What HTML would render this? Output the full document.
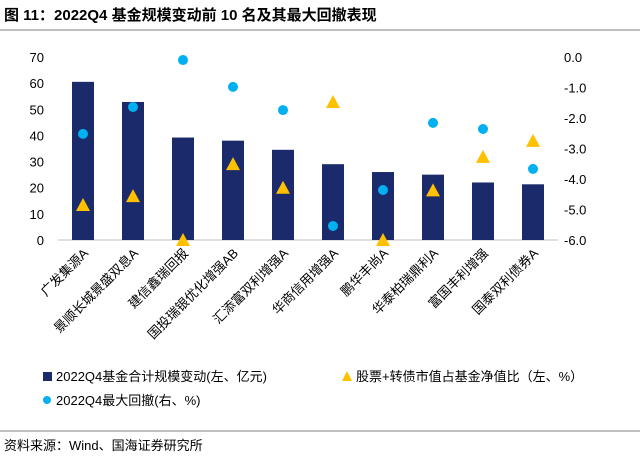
<!DOCTYPE html>
<html><head><meta charset="utf-8"><style>
body{margin:0;background:#fff;width:640px;height:458px;overflow:hidden;font-family:"Liberation Sans","Noto Sans CJK SC",sans-serif}
</style></head><body>
<svg id="c" width="640" height="458" xmlns="http://www.w3.org/2000/svg">
<text x="4" y="20" font-size="15" font-weight="bold" fill="#000" font-family="Liberation Sans, Noto Sans CJK SC, sans-serif">图 11：2022Q4 基金规模变动前 10 名及其最大回撤表现</text>
<line x1="0" y1="30" x2="640" y2="30" stroke="#7f7f7f" stroke-width="1"/>
<line x1="0" y1="431" x2="640" y2="431" stroke="#7f7f7f" stroke-width="1"/>
<text x="4" y="450" font-size="13" fill="#000" font-family="Liberation Sans, Noto Sans CJK SC, sans-serif">资料来源：Wind、国海证券研究所</text>
<g id="plot"></g>
</svg>
<script>
const categories=["广发集源A","景顺长城景盛双息A","建信鑫瑞回报","国投瑞银优化增强AB","汇添富双利增强A","华商信用增强A","鹏华丰尚A","华泰柏瑞鼎利A","富国丰利增强","国泰双利债券A"];
const scaleChange=[60.5,52.8,39.2,38,34.5,29,26,25,22,21.3];
const equityRatio=[13.4,16.8,0,29,20,52.8,0,19,31.8,37.9];
const maxDrawdown=[-2.52,-1.64,-0.1,-0.98,-1.74,-5.54,-4.36,-2.16,-2.36,-3.67];
const leftTicks=[0,10,20,30,40,50,60,70];
const rightTicks=[0,-1,-2,-3,-4,-5,-6];
const rightTickLabels=["0.0","-1.0","-2.0","-3.0","-4.0","-5.0","-6.0"];

const NS="http://www.w3.org/2000/svg";
const g=document.getElementById('plot');
const X0=58,X1=558,Y0=240,Y1=57;
const yL=v=>Y0-(v/70)*(Y0-Y1);
const yR=v=>Y1+(-v/6)*(Y0-Y1);
const bw=(X1-X0)/categories.length;
const xC=i=>X0+bw*(i+0.5);
function mk(t,a,txt){const e=document.createElementNS(NS,t);for(const k in a)e.setAttribute(k,a[k]);if(txt!==undefined)e.textContent=txt;g.appendChild(e);return e;}
const F="Liberation Sans, Noto Sans CJK SC, sans-serif";
let e=mk('line',{x1:X0,y1:Y0,x2:X1,y2:Y0,stroke:'#bfbfbf'});


leftTicks.forEach(v=>{const t=mk('text',{x:44,y:yL(v)+5,'font-size':13,'text-anchor':'end','font-family':F},String(v));

});
rightTicks.forEach((v,i)=>{const t=mk('text',{x:564,y:yR(v)+5,'font-size':13,'font-family':F},rightTickLabels[i]);

});
categories.forEach((c,i)=>{
 const b=mk('rect',{x:xC(i)-11,y:yL(scaleChange[i]),width:22,height:Y0-yL(scaleChange[i]),fill:'#1b2a6b'});
 
 
 const cx=xC(i),cy=yL(equityRatio[i]);
 const tr=mk('polygon',{points:`${cx},${cy-7} ${cx-7},${cy+6} ${cx+7},${cy+6}`,fill:'#ffc000'});
 
 
 const d=mk('circle',{cx:cx,cy:yR(maxDrawdown[i]),r:5,fill:'#00b0f0'});
 
 
 const l=mk('text',{x:0,y:0,'font-size':13,'text-anchor':'end','font-family':F,transform:`translate(${cx+6},${Y0+14}) rotate(-45)`},c);
 
 
});
// legend
let r=mk('rect',{x:43,y:372,width:9,height:9,fill:'#1b2a6b'});


let t=mk('text',{x:56,y:381,'font-size':13,'font-family':F},'2022Q4基金合计规模变动(左、亿元)');


let p=mk('polygon',{points:'347,371 342,381 352,381',fill:'#ffc000'});


t=mk('text',{x:356,y:381,'font-size':13,'font-family':F},'股票+转债市值占基金净值比（左、%）');


let cc=mk('circle',{cx:47,cy:400,r:4,fill:'#00b0f0'});


t=mk('text',{x:56,y:405,'font-size':13,'font-family':F},'2022Q4最大回撤(右、%)');


</script>
</body></html>
